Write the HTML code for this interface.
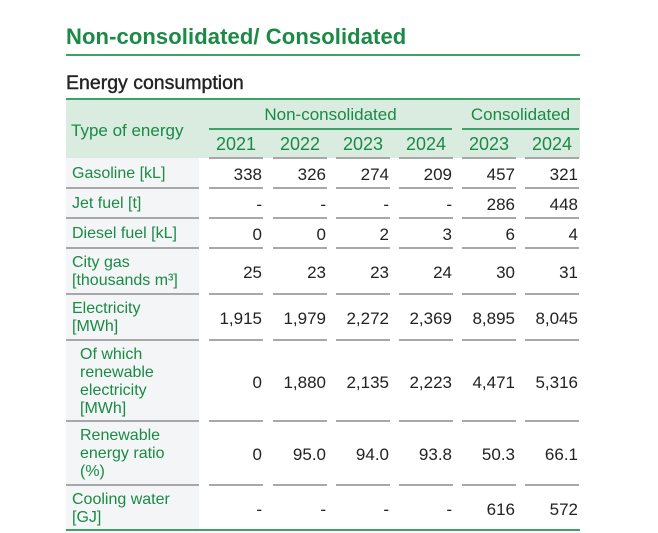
<!DOCTYPE html>
<html><head><meta charset="utf-8"><style>
body{margin:0;width:658px;height:533px;background:#fff;position:relative;overflow:hidden;font-family:"Liberation Sans",sans-serif;}
.a{position:absolute;}
.g{color:#1a8a45;}
.t{font-size:17px;color:#222;text-align:right;}
.lbl{font-size:16px;color:#1a8a45;line-height:18px;}
.ln{position:absolute;height:2px;background:#a8a8a8;}
</style></head><body>
<div class="a g" style="left:66px;top:24px;font-size:22px;font-weight:bold;letter-spacing:0.1px">Non-consolidated/ Consolidated</div>
<div class="a" style="left:66px;top:54px;width:514px;height:2px;background:#3aa365"></div>
<div class="a" style="left:66px;top:72px;font-size:19.5px;color:#222;-webkit-text-stroke:0.4px #222">Energy consumption</div>
<div class="a" style="left:66px;top:98px;width:514px;height:2px;background:#3aa365"></div>
<div class="a" style="left:66px;top:100px;width:514px;height:58px;background:#d9ecdf"></div>
<div class="a" style="left:66px;top:158px;width:133px;height:373px;background:#f3f5f6"></div>
<div class="a" style="left:66px;top:529px;width:514px;height:2px;background:#3aa365"></div>
<div class="a g" style="left:71px;top:121px;font-size:17px">Type of energy</div>
<div class="a g" style="left:209px;top:105px;width:243px;text-align:center;font-size:17px">Non-consolidated</div>
<div class="a g" style="left:462px;top:105px;width:117px;text-align:center;font-size:17px">Consolidated</div>
<div class="a" style="left:209px;top:128px;width:243px;height:2px;background:#3aa365"></div>
<div class="a" style="left:462px;top:128px;width:117px;height:2px;background:#3aa365"></div>
<div id="c"></div>
<script>
var xs=[209,273,336,399,462,525],W=54;
var h='';
var yrs=['2021','2022','2023','2024','2023','2024'];
for(var i=0;i<6;i++)h+='<div class="a g" style="left:'+xs[i]+'px;top:134px;width:'+W+'px;text-align:center;font-size:18px">'+yrs[i]+'</div>';
var rows=[
[158,188,'Gasoline [kL]',0,['338','326','274','209','457','321']],
[188,218,'Jet fuel [t]',0,['-','-','-','-','286','448']],
[218,248,'Diesel fuel [kL]',0,['0','0','2','3','6','4']],
[248,294,'City gas<br>[thousands m³]',0,['25','23','23','24','30','31']],
[294,340,'Electricity<br>[MWh]',0,['1,915','1,979','2,272','2,369','8,895','8,045']],
[340,421,'Of which<br>renewable<br>electricity<br>[MWh]',1,['0','1,880','2,135','2,223','4,471','5,316']],
[421,485,'Renewable<br>energy ratio<br>(%)',1,['0','95.0','94.0','93.8','50.3','66.1']],
[485,531,'Cooling water<br>[GJ]',0,['-','-','-','-','616','572']]];
rows.forEach(function(r,k){
 var y0=r[0],y1=r[1],mid=(y0+y1)/2;
 var n=r[2].split('<br>').length;
 h+='<div class="a lbl" style="left:'+(r[3]?80:72)+'px;top:'+(mid-n*9+1)+'px">'+r[2]+'</div>';
 for(var i=0;i<6;i++){
  h+='<div class="a t" style="left:'+xs[i]+'px;top:'+(mid-8)+'px;width:'+(W-1)+'px">'+r[4][i]+'</div>';
 }
 if(k<7){
  h+='<div class="ln" style="left:66px;top:'+(y1-1)+'px;width:133px"></div>';
  for(var i=0;i<6;i++)h+='<div class="ln" style="left:'+xs[i]+'px;top:'+(y1-1)+'px;width:'+W+'px"></div>';
 }
});
for(var i=0;i<6;i++)h+='<div class="ln" style="left:'+xs[i]+'px;top:157px;width:'+W+'px"></div>';
document.getElementById('c').innerHTML=h;
</script>
</body></html>
